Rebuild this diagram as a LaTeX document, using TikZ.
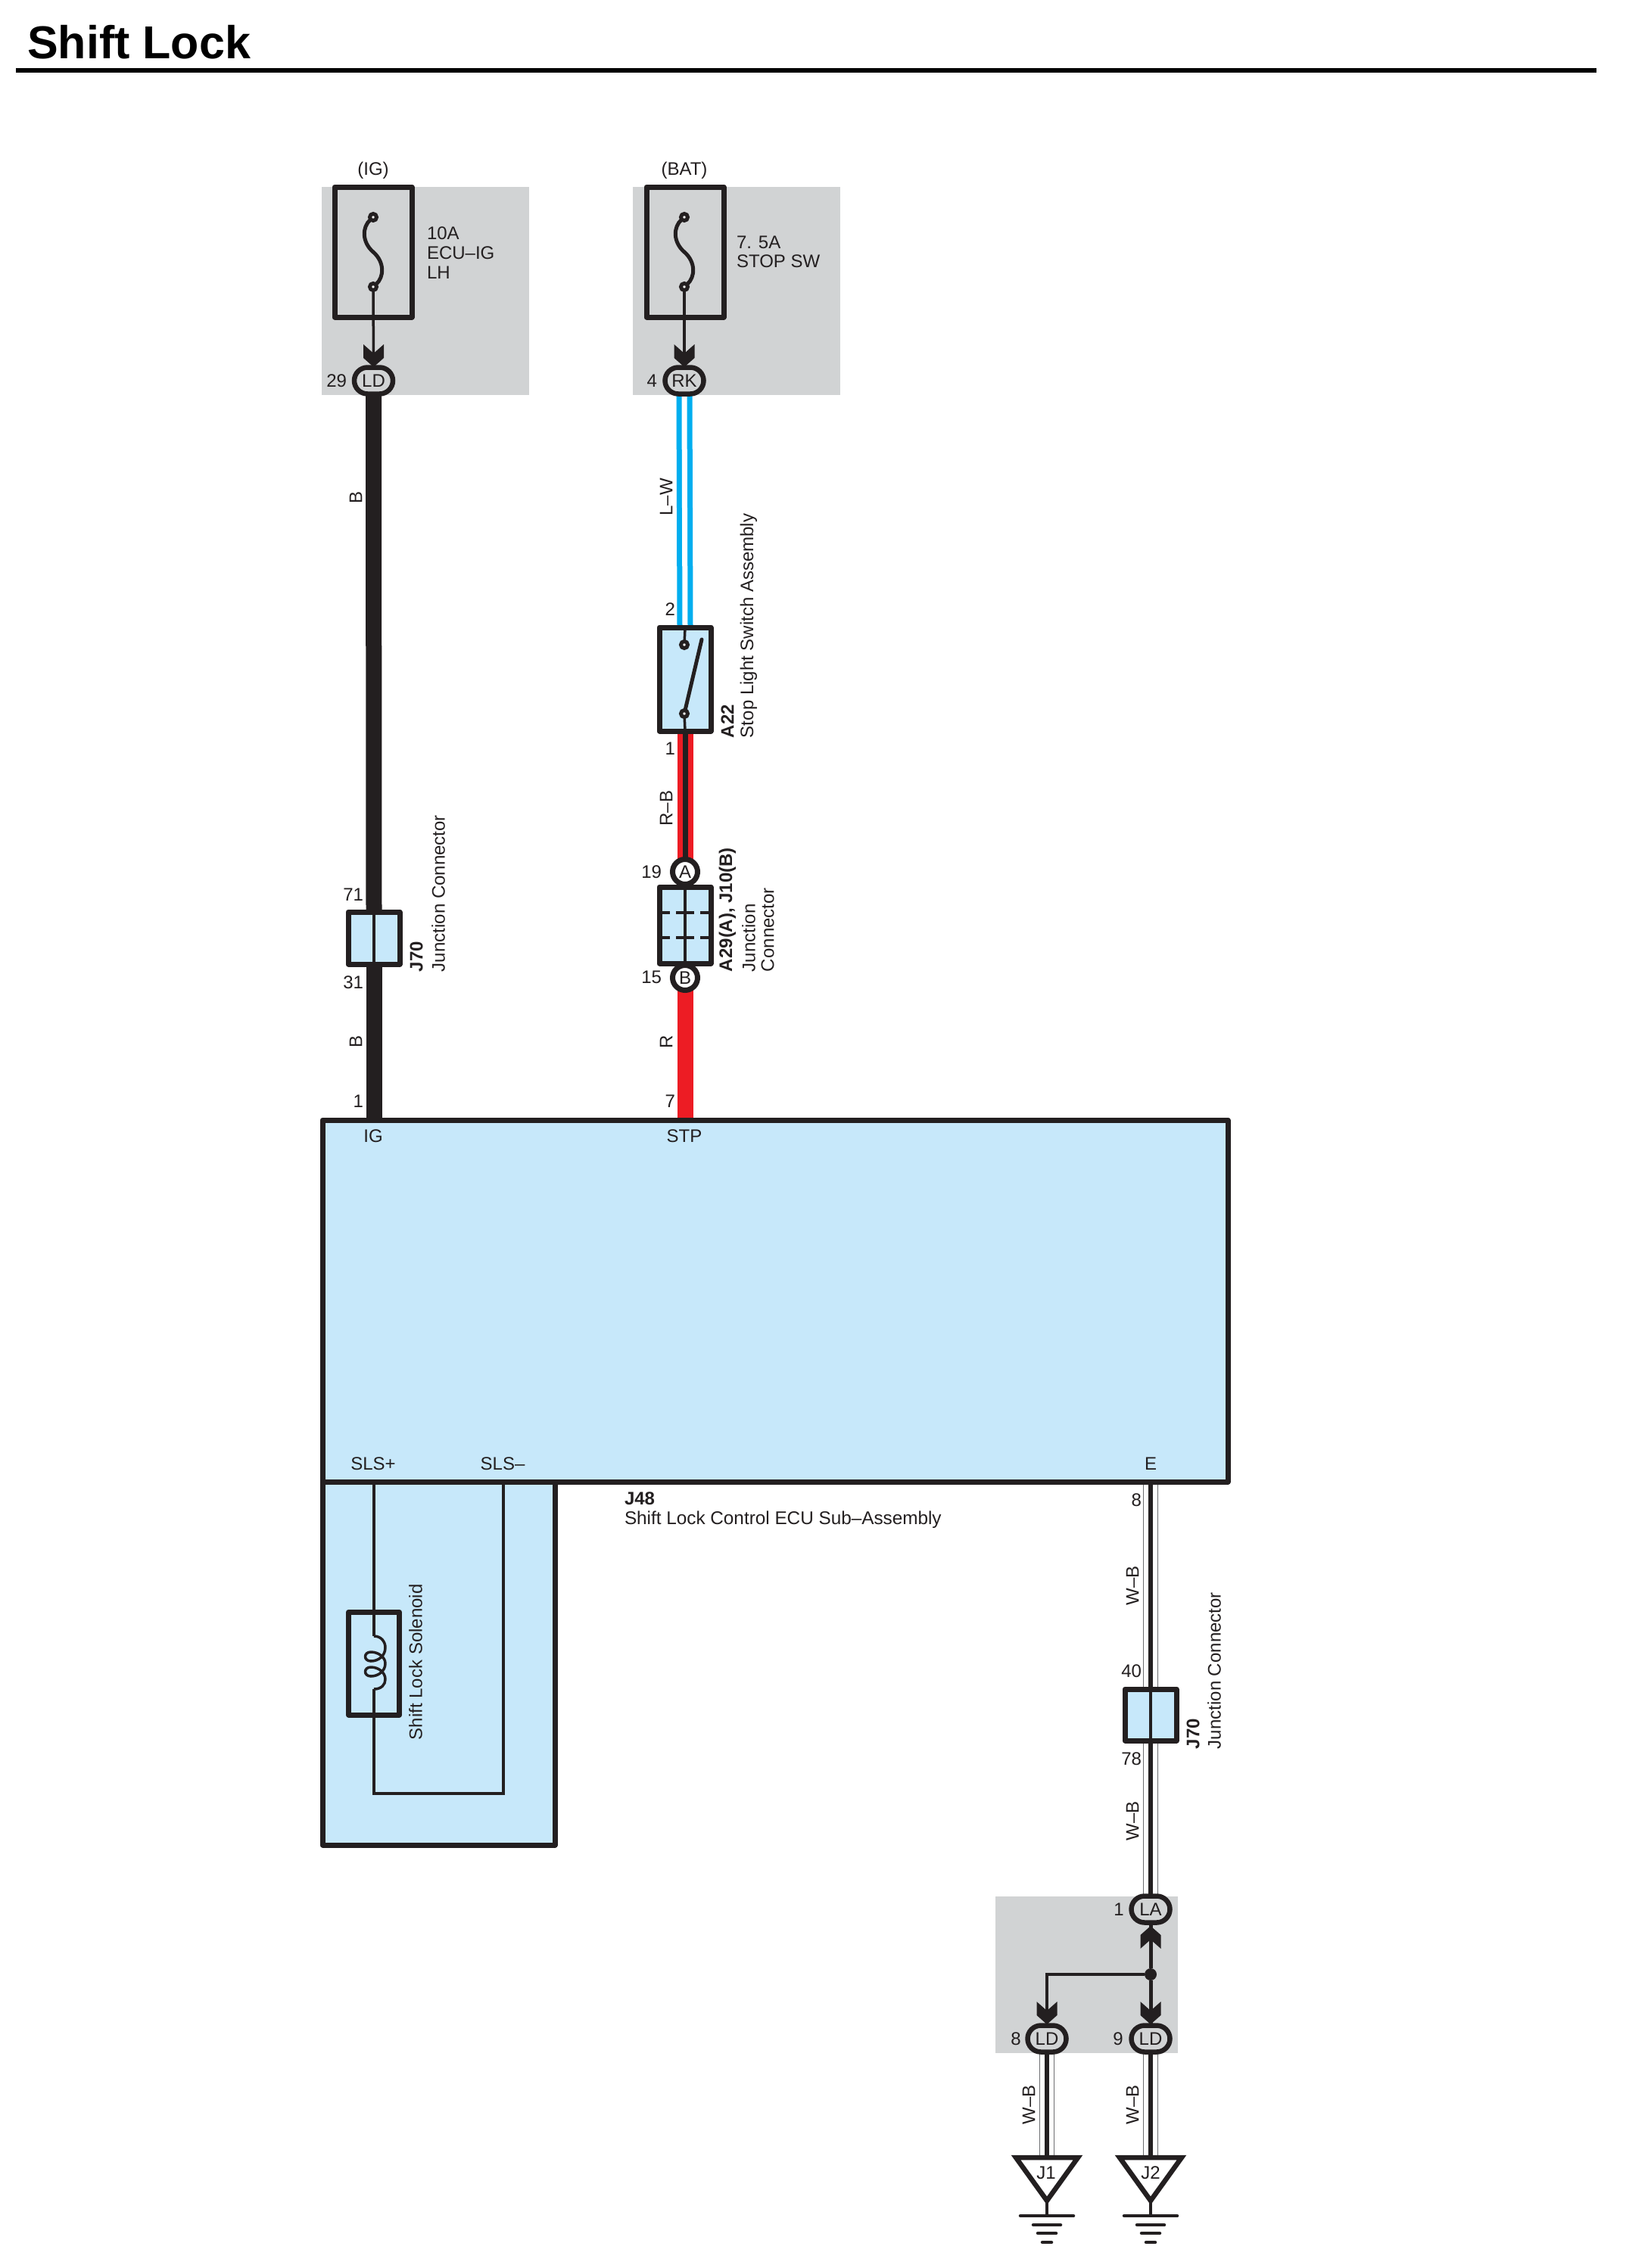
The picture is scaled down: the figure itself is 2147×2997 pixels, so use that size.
\documentclass[tikz,border=0pt]{standalone}
\usepackage{fontspec}
\setmainfont{Liberation Sans}
\usetikzlibrary{shapes.misc}
\definecolor{ink}{HTML}{231F20}
\definecolor{panelgray}{HTML}{D1D3D4}
\definecolor{ecublue}{HTML}{C7E8FA}
\definecolor{wireblue}{HTML}{00AEEF}
\definecolor{wirered}{HTML}{ED1C24}
\definecolor{wiregray}{HTML}{6D6E71}
\pgfdeclarelayer{panel}
\pgfdeclarelayer{wire}
\pgfsetlayers{panel,wire,main}
\newcommand{\fs}{\fontsize{24}{26}\selectfont}
\newcommand{\wirewb}[2]{\draw[wbout] (#1) -- (#2); \draw[wbcore] (#1) -- (#2);}
\tikzset{
  x=1pt,y=-1pt,
  lab/.style={font=\fs,text=ink,inner sep=0pt,outer sep=0pt},
  labb/.style={font=\fs\bfseries,text=ink,inner sep=0pt,outer sep=0pt},
  vlab/.style={lab,rotate=90,anchor=west},
  vlabb/.style={labb,rotate=90,anchor=west},
  vcen/.style={lab,rotate=90},
  boxed/.style={draw=ink,line width=7pt,inner sep=0pt,outer sep=0pt,line join=round},
  fusebox/.style={boxed,minimum width=102pt,minimum height=172pt},
  jbox/.style={boxed,fill=ecublue,minimum width=68pt,minimum height=69pt},
  plug/.style={rounded rectangle,draw=ink,line width=6.5pt,fill=panelgray,minimum width=51pt,minimum height=35pt,inner sep=0pt,outer sep=0pt,font=\fs,text=ink},
  round plug/.style={circle,draw=ink,line width=7pt,fill=white,minimum size=33pt,inner sep=0pt,outer sep=0pt,font=\fs,text=ink},
  eye/.style={circle,draw=ink,line width=5pt,fill=white,minimum size=9pt,inner sep=0pt,outer sep=0pt},
  thin wire/.style={draw=ink,line width=3.5pt},
  blackwire/.style={draw=ink,line width=21pt},
  redwire/.style={draw=wirered,line width=21pt},
  lwwire/.style={draw=wireblue,line width=7pt,double=white,double distance=7pt},
  rbwire/.style={draw=wirered,line width=7pt,double=ink,double distance=7pt},
  wbout/.style={draw=wiregray,line width=1.4pt,double=white,double distance=18pt},
  wbcore/.style={draw=ink,line width=5.5pt},
  pics/chev/.style={code={\fill[ink] (-13.5,-30) -- (0,-18) -- (13.5,-30) -- (13.5,-12) -- (0,0) -- (-13.5,-12) -- cycle;}},
}
\begin{document}
\begin{tikzpicture}
\useasboundingbox (0,0) rectangle (2147,2997);

% page and gray panels
\begin{pgfonlayer}{panel}
\fill[white] (0,0) rectangle (2147,2997);
\fill[panelgray] (425,247) rectangle (699,522);
\fill[panelgray] (836,247) rectangle (1110,522);
\fill[panelgray] (1315,2506) rectangle (1556,2713);
\end{pgfonlayer}

% title
\node[font=\fontsize{61}{61}\selectfont\bfseries,text=black,inner sep=0pt,anchor=west] (title) at (36,56) {Shift Lock};
\coordinate (ruleL) at (21,93);
\coordinate (ruleR) at (2109,93);
\draw[black,line width=6pt] (ruleL) -- (ruleR);

% lower module and ECU
\node[boxed,fill=ecublue,minimum width=307pt,minimum height=480pt] (sol box) at (579.5,2198) {};
\node[boxed,fill=ecublue,minimum width=1196pt,minimum height=478pt] (ecu) at (1024,1719) {};
\coordinate (pinIG) at (494,1480);
\coordinate (pinSTP) at (905,1480);
\coordinate (pinSp) at (494,1958);
\coordinate (pinSm) at (665,1958);
\coordinate (pinE) at (1520,1958);

% fuses
\node[fusebox] (fuse1) at (493,333) {};
\node[fusebox] (fuse2) at (905,333) {};
\node[eye] (f1a) at (493,287) {};
\node[eye] (f1b) at (493,379) {};
\node[eye] (f2a) at (904,287) {};
\node[eye] (f2b) at (904,379) {};
\draw[draw=ink,line width=5pt] (f1a) .. controls (478,300) and (478,320) .. (493,333) .. controls (508,346) and (508,366) .. (f1b);
\draw[draw=ink,line width=5pt] (f2a) .. controls (889,300) and (889,320) .. (904,333) .. controls (919,346) and (919,366) .. (f2b);

% plugs
\node[plug] (ld1) at (493.5,503) {LD};
\node[plug] (rk) at (904,503) {RK};
\node[plug] (la) at (1520,2523) {LA};
\node[plug] (ld8) at (1383,2694) {LD};
\node[plug] (ld9) at (1520,2694) {LD};

% chevrons and inner wires
\draw[thin wire] (f1b) -- (ld1.north);
\draw[thin wire] (f2b) -- (rk.north);
\pic at (493.5,485) {chev};
\pic at (904,485) {chev};
\node[circle,fill=ink,minimum size=16pt,inner sep=0pt,outer sep=0pt] (dot) at (1520,2609) {};
\draw[draw=ink,line width=5pt] (la.south) -- (dot);
\draw[draw=ink,line width=5pt] (dot) -- (ld9.north);
\draw[draw=ink,line width=4pt] (dot) -| (ld8.north);
\pic[rotate=180] at (1520,2545) {chev};
\pic at (1520,2675) {chev};
\pic at (1383,2675) {chev};

% switch and junctions
\node[boxed,fill=ecublue,minimum width=68pt,minimum height=137pt] (sw) at (905,897.5) {};
\node[jbox] (j70a) at (494,1239.5) {};
\node[jbox,minimum height=101pt] (jab) at (905,1222.5) {};
\node[jbox,minimum height=68pt] (j70b) at (1520,2266) {};
\node[round plug] (pa) at (905,1152) {A};
\node[round plug] (pb) at (905,1292) {B};

% harness wires
\begin{pgfonlayer}{wire}
\draw[blackwire] (ld1.south) -- (j70a.north);
\draw[blackwire] (j70a.south) -- (pinIG);
\draw[lwwire] (rk.south) -- (sw.north);
\draw[rbwire] (sw.south) -- (pa.north);
\draw[redwire] (pb.south) -- (pinSTP);
\wirewb{pinE}{j70b.north}
\wirewb{j70b.south}{la.north}
\coordinate (g1top) at (1383,2851);
\coordinate (g2top) at (1520,2851);
\wirewb{ld8.south}{g1top}
\wirewb{ld9.south}{g2top}
\end{pgfonlayer}

% junction internals
\draw[draw=ink,line width=4pt] (j70a.north) -- (j70a.south);
\draw[draw=ink,line width=4pt] (j70b.north) -- (j70b.south);
\draw[draw=ink,line width=3.5pt] (jab.north) -- (jab.south);
\foreach \yy in {1206,1239}{
  \draw[draw=ink,line width=3.5pt] (874,\yy) -- (885,\yy);
  \draw[draw=ink,line width=3.5pt] (893,\yy) -- (917,\yy);
  \draw[draw=ink,line width=3.5pt] (925,\yy) -- (936,\yy);
}

% switch internals
\node[eye] (swa) at (904,852) {};
\node[eye] (swb) at (904,943) {};
\draw[draw=ink,line width=3.5pt] (sw.north) -- (swa);
\draw[draw=ink,line width=3.5pt] (swb) -- (sw.south);
\coordinate (armtip) at (927,845);
\draw[draw=ink,line width=5pt,line cap=round] (swb) -- (armtip);

% solenoid
\node[jbox,minimum width=67pt,minimum height=136pt] (sol) at (494,2198) {};
\coordinate (coilT) at (494,2162);
\coordinate (coilB) at (494,2232);
\coordinate (solBL) at (494,2370);
\coordinate (solBR) at (665,2370);
\draw[thin wire] (pinSp) -- (coilT);
\draw[thin wire] (coilB) -- (solBL) -- (solBR) -- (pinSm);
\draw[draw=ink,line width=3.5pt,line join=round] (coilT)
  .. controls (504,2162) and (509,2170) .. (509,2177)
  .. controls (509,2188) and (500,2195) .. (490,2195)
  .. controls (480,2195) and (480,2183) .. (490,2183)
  .. controls (500,2183) and (509,2190) .. (509,2198)
  .. controls (509,2208) and (500,2215) .. (490,2215)
  .. controls (480,2215) and (480,2203) .. (490,2203)
  .. controls (500,2203) and (509,2210) .. (509,2219)
  .. controls (509,2226) and (504,2232) .. (coilB);

% grounds
\draw[draw=ink,line width=6.5pt,miter limit=10] (1342,2851) -- (1424,2851) -- (1383,2908) -- cycle;
\draw[draw=ink,line width=6.5pt,miter limit=10] (1479,2851) -- (1561,2851) -- (1520,2908) -- cycle;
\node[lab] (tJ1) at (1382,2871) {J1};
\node[lab] (tJ2) at (1520,2871) {J2};
\foreach \xx in {1383,1520}{
  \draw[draw=ink,line width=4pt] (\xx,2908) -- (\xx,2928);
  \draw[draw=ink,line width=4.5pt,line cap=round] (\xx-35,2928) -- (\xx+35,2928);
  \draw[draw=ink,line width=4.5pt,line cap=round] (\xx-18,2940) -- (\xx+18,2940);
  \draw[draw=ink,line width=4.5pt,line cap=round] (\xx-12,2951) -- (\xx+12,2951);
  \draw[draw=ink,line width=4.5pt,line cap=round] (\xx-6,2963) -- (\xx+6,2963);
}

% labels top
\node[lab] (tIG) at (493,225) {(IG)};
\node[lab] (tBAT) at (904,225) {(BAT)};
\node[lab,anchor=west] (t10A) at (564,308) {10A};
\node[lab,anchor=west] (tECUIG) at (564,334) {ECU–IG};
\node[lab,anchor=west] (tLH) at (564,360) {LH};
\node[lab,anchor=west] (t75A) at (973,320) {7. 5A};
\node[lab,anchor=west] (tSTOP) at (973,345) {STOP SW};
\node[lab,anchor=east] (n29) at (458,503) {29};
\node[lab,anchor=east] (n4) at (868,503) {4};
% left column
\node[vcen] (wB1) at (470,657) {B};
\node[lab,anchor=east] (n71) at (480,1182) {71};
\node[lab,anchor=east] (n31) at (480,1298) {31};
\node[vcen] (wB2) at (470,1376) {B};
\node[lab,anchor=east] (n1a) at (480,1455) {1};
\node[vlabb] (tJ70a) at (550,1284) {J70};
\node[vlab] (tJCa) at (579,1284) {Junction Connector};
% middle column
\node[vcen] (wLW) at (880,657) {L–W};
\node[lab,anchor=east] (n2) at (892,805) {2};
\node[lab,anchor=east] (n1b) at (892,989) {1};
\node[vcen] (wRB) at (880,1068) {R–B};
\node[lab,anchor=east] (n19) at (874,1152) {19};
\node[lab,anchor=east] (n15) at (874,1291) {15};
\node[vcen] (wR) at (880,1377) {R};
\node[lab,anchor=east] (n7) at (892,1455) {7};
\node[vlabb] (tA22) at (961,975) {A22};
\node[vlab] (tSLS) at (989,975) {Stop Light Switch Assembly};
\node[vlabb] (tA29) at (961,1284) {A29(A), J10(B)};
\node[vlab] (tJn) at (989,1284) {Junction};
\node[vlab] (tCn) at (1014,1284) {Connector};
% ECU
\node[lab] (tpIG) at (493,1501) {IG};
\node[lab] (tpSTP) at (904,1501) {STP};
\node[lab] (tpSp) at (493,1934) {SLS+};
\node[lab] (tpSm) at (664,1934) {SLS–};
\node[lab] (tpE) at (1520,1934) {E};
\node[labb,anchor=west] (tJ48) at (825,1980) {J48};
\node[lab,anchor=west,font=\fontsize{24.3}{26}\selectfont] (tECU) at (825,2008) {Shift Lock Control ECU Sub–Assembly};
\node[vlab] (tSol) at (549,2299) {Shift Lock Solenoid};
% right column
\node[lab,anchor=east] (n8a) at (1508,1982) {8};
\node[vcen] (wWB1) at (1496,2095) {W–B};
\node[lab,anchor=east] (n40) at (1508,2208) {40};
\node[lab,anchor=east] (n78) at (1508,2324) {78};
\node[vcen] (wWB2) at (1496,2406) {W–B};
\node[vlabb] (tJ70b) at (1576,2311) {J70};
\node[vlab] (tJCb) at (1604,2311) {Junction Connector};
\node[lab] (n1c) at (1478,2523) {1};
\node[lab] (n8b) at (1342,2694) {8};
\node[lab] (n9) at (1477,2694) {9};
\node[vcen] (wWB3) at (1359,2781) {W–B};
\node[vcen] (wWB4) at (1496,2781) {W–B};
\end{tikzpicture}
\end{document}
